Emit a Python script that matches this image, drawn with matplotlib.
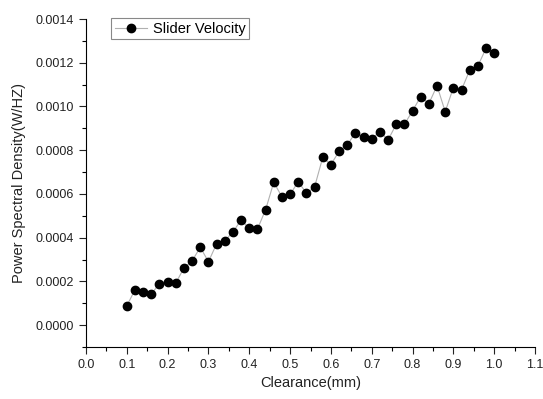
import numpy as np
import matplotlib
matplotlib.use('Agg')
import matplotlib.pyplot as plt
from matplotlib.ticker import MultipleLocator, FormatStrFormatter

plt.rcParams['font.family'] = ['Liberation Sans', 'DejaVu Sans']

clearance = np.round(np.arange(0.10, 1.001, 0.02), 2)
psd = [0.000088, 0.000162, 0.000151, 0.000143, 0.000189, 0.000197, 0.000192,
       0.000262, 0.000294, 0.000356, 0.000290, 0.000372, 0.000386, 0.000426,
       0.000481, 0.000442, 0.000439, 0.000528, 0.000653, 0.000587, 0.000598,
       0.000656, 0.000603, 0.000632, 0.000767, 0.000734, 0.000795, 0.000824,
       0.000880, 0.000860, 0.000853, 0.000885, 0.000847, 0.000918, 0.000918,
       0.000980, 0.001045, 0.001013, 0.001095, 0.000976, 0.001086, 0.001076,
       0.001166, 0.001185, 0.001266, 0.001246]

fig = plt.figure(figsize=(5.43, 3.99), dpi=100)
ax = fig.add_axes([86 / 543, 1 - 347 / 399, (535 - 86) / 543, (347 - 19) / 399])

ax.plot(clearance, psd, color='#b0b0b0', lw=0.8, marker='o', ms=6,
        mfc='black', mec='black', label='Slider Velocity')

ax.set_xlim(0, 1.1)
ax.set_ylim(-0.0001, 0.0014)
ax.xaxis.set_major_locator(MultipleLocator(0.1))
ax.xaxis.set_minor_locator(MultipleLocator(0.05))
ax.yaxis.set_major_locator(MultipleLocator(0.0002))
ax.yaxis.set_minor_locator(MultipleLocator(0.0001))
ax.xaxis.set_major_formatter(FormatStrFormatter('%.1f'))
ax.yaxis.set_major_formatter(FormatStrFormatter('%.4f'))
ax.tick_params(which='major', direction='out', length=5, width=0.8, labelsize=9, colors='#222222')
ax.tick_params(which='minor', direction='out', length=3, width=0.8)

for side in ['top', 'right']:
    ax.spines[side].set_visible(False)

ax.set_xlabel('Clearance(mm)', fontsize=10.5, color='#222222')
ax.set_ylabel('Power Spectral Density(W/HZ)', fontsize=10.5, color='#222222', labelpad=7)

leg = ax.legend(loc='upper left', bbox_to_anchor=(0.04, 1.025), fontsize=10.5,
                fancybox=False, edgecolor='#888888', framealpha=1,
                handlelength=2.2, handletextpad=0.4, borderpad=0.25)
leg.get_frame().set_linewidth(0.8)

fig.savefig('out.png', dpi=100)
